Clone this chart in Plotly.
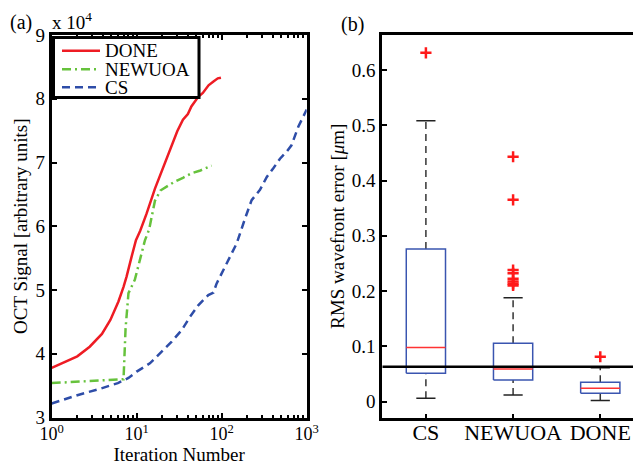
import plotly.graph_objects as go

# ---------------- Panel (a) data ----------------
done_x = [1, 1.6, 2, 2.8, 3.9, 4.9, 6.1, 7, 7.6, 8.7, 9.8, 11, 13, 16.4, 20.6, 24.5, 27, 30, 35, 40, 44, 53, 60, 70, 80, 90, 98]
done_y = [37800, 39100, 39600, 41100, 43100, 45300, 48200, 50500, 52100, 55200, 57800, 59300, 61900, 65900, 69300, 71700, 73300, 74900, 76700, 77600, 78800, 80300, 80900, 82100, 82700, 83200, 83300]

newuoa_x = [1, 2, 3, 5, 7, 7.4, 8, 9.5, 11, 12.5, 14, 16.4, 19, 22.7, 28, 35, 44, 55, 65, 76]
newuoa_y = [35400, 35600, 35700, 35900, 36000, 44000, 49500, 51600, 54800, 57800, 59500, 64000, 65600, 66300, 67000, 67600, 68300, 68700, 69100, 69500]

cs_x = [1, 2, 3.7, 6, 8, 10, 14.3, 19.7, 25.8, 33.8, 42.4, 53, 69.6, 80, 87, 100, 125, 150, 188, 225, 282, 338, 405, 485, 582, 662, 796, 955, 1000]
cs_y = [32200, 33500, 34500, 35400, 36200, 37200, 38500, 40300, 41900, 43700, 45800, 47600, 49200, 49600, 51000, 52600, 55200, 57300, 61200, 64100, 65700, 67700, 69100, 70600, 71700, 72700, 75600, 77700, 78300]

series_names = ["DONE", "NEWUOA", "CS"]
series_colors = ["#ee1c24", "#66c23c", "#2e4da8"]
series_dash = ["solid", "9px,4px,2px,4px", "8px,5px"]

a_xtick_vals = [1, 10, 100, 1000]
a_xtick_text = ["10<sup>0</sup>", "10<sup>1</sup>", "10<sup>2</sup>", "10<sup>3</sup>"]
a_ytick_vals = [30000, 40000, 50000, 60000, 70000, 80000, 90000]
a_ytick_text = ["3", "4", "5", "6", "7", "8", "9"]

# ---------------- Panel (b) data ----------------
box_labels = ["CS", "NEWUOA", "DONE"]
box_pos = [1, 2, 3]
box_q1 = [0.051, 0.039, 0.015]
box_med = [0.0977, 0.059, 0.024]
box_q3 = [0.276, 0.1056, 0.035]
box_lo = [0.006, 0.012, 0.002]
box_hi = [0.508, 0.188, 0.061]
box_outliers = [[0.631], [0.443, 0.365, 0.238, 0.232, 0.222, 0.217, 0.213, 0.210], [0.081]]
threshold = 0.063
b_ytick_vals = [0, 0.1, 0.2, 0.3, 0.4, 0.5, 0.6]
b_ytick_text = ["0", "0.1", "0.2", "0.3", "0.4", "0.5", "0.6"]

FONT = "Liberation Serif"
# the page body has an 8px margin, so the figure is sized to fill the rest of the window
OFF = 8
W, H = 641 - OFF, 465 - OFF


def px(x):
    return (x - OFF) / W


def py(y):
    return 1 - (y - OFF) / H


fig = go.Figure()

for xs, ys, nm, col, dsh in zip([done_x, newuoa_x, cs_x], [done_y, newuoa_y, cs_y],
                                series_names, series_colors, series_dash):
    fig.add_trace(go.Scatter(x=xs, y=ys, mode="lines", name=nm, showlegend=False,
                             line=dict(color=col, width=2.5, dash=dsh), xaxis="x", yaxis="y"))

# ---------- box plot built from the statistics ----------
hw = 0.225   # half box width
cw = 0.11    # half cap width
bx, by, mx, my, wx, wy, cx, cy = [], [], [], [], [], [], [], []
for p, a, m, b, lo, hi in zip(box_pos, box_q1, box_med, box_q3, box_lo, box_hi):
    bx += [p - hw, p + hw, p + hw, p - hw, p - hw, None]
    by += [a, a, b, b, a, None]
    mx += [p - hw, p + hw, None]
    my += [m, m, None]
    wx += [p, p, None, p, p, None]
    wy += [b, hi, None, lo, a, None]
    cx += [p - cw, p + cw, None, p - cw, p + cw, None]
    cy += [hi, hi, None, lo, lo, None]

fig.add_trace(go.Scatter(x=wx, y=wy, mode="lines", showlegend=False, xaxis="x2", yaxis="y2",
                         line=dict(color="#333333", width=1.5, dash="7px,5px")))
fig.add_trace(go.Scatter(x=cx, y=cy, mode="lines", showlegend=False, xaxis="x2", yaxis="y2",
                         line=dict(color="#222222", width=1.5)))
fig.add_trace(go.Scatter(x=bx, y=by, mode="lines", showlegend=False, xaxis="x2", yaxis="y2",
                         line=dict(color="#3a55b0", width=1.5)))
fig.add_trace(go.Scatter(x=mx, y=my, mode="lines", showlegend=False, xaxis="x2", yaxis="y2",
                         line=dict(color="#ff3333", width=1.5)))
ox, oy = [], []
for p, outs in zip(box_pos, box_outliers):
    for v in outs:
        ox.append(p)
        oy.append(v)
fig.add_trace(go.Scatter(x=ox, y=oy, mode="markers", showlegend=False, xaxis="x2", yaxis="y2",
                         marker=dict(symbol="cross-thin", size=8, line=dict(color="#ff1a1a", width=2.5))))
fig.add_trace(go.Scatter(x=[0.5, 3.5], y=[threshold, threshold], mode="lines", showlegend=False,
                         xaxis="x2", yaxis="y2", line=dict(color="black", width=2.5)))
# dummy trace to activate right-side tick axis of panel (b)
fig.add_trace(go.Scatter(x=[None], y=[None], xaxis="x2", yaxis="y3", showlegend=False))

ydom = [py(417.5), py(35)]
axfont = dict(family=FONT, size=19, color="black")

# ---------- legend (MATLAB style, compact rows) ----------
shapes = [dict(type="rect", xref="paper", yref="paper", x0=px(53.5), x1=px(199), y0=py(97.5), y1=py(37.5),
               fillcolor="white", line=dict(color="black", width=3), layer="above")]
annotations = []
row_y = [50.7, 69.3, 87.3]
for nm, col, dsh, ry in zip(series_names, series_colors, series_dash, row_y):
    shapes.append(dict(type="line", xref="paper", yref="paper", x0=px(62), x1=px(100), y0=py(ry), y1=py(ry),
                       line=dict(color=col, width=2.5, dash=dsh), layer="above"))
    annotations.append(dict(text=nm, x=px(103), y=py(ry), xref="paper", yref="paper", showarrow=False,
                            font=dict(family=FONT, size=19, color="black"), xanchor="left", yanchor="middle"))

annotations += [
    dict(text="(a)", x=px(21), y=py(23), xref="paper", yref="paper", showarrow=False,
         font=dict(family=FONT, size=20, color="black"), xanchor="center", yanchor="middle"),
    dict(text="x 10<sup>4</sup>", x=px(50), y=py(21), xref="paper", yref="paper", showarrow=False,
         font=dict(family=FONT, size=19, color="black"), xanchor="left", yanchor="middle"),
    dict(text="(b)", x=px(352), y=py(24), xref="paper", yref="paper", showarrow=False,
         font=dict(family=FONT, size=20, color="black"), xanchor="center", yanchor="middle"),
]

fig.update_layout(
    width=W, height=H,
    margin=dict(l=0, r=0, t=0, b=0, autoexpand=False),
    paper_bgcolor="white", plot_bgcolor="white",
    font=dict(family=FONT, size=19, color="black"),
    showlegend=False,
    xaxis=dict(type="log", range=[0, 3], domain=[px(51.7), px(306.7)], anchor="y", automargin=False,
               tickmode="array", tickvals=a_xtick_vals, ticktext=a_xtick_text,
               ticks="inside", ticklen=5, tickwidth=2, tickcolor="black", ticklabelstandoff=-2,
               showline=True, linewidth=3, linecolor="black", mirror="ticks",
               showgrid=False, zeroline=False, tickfont=dict(family=FONT, size=18, color="black"),
               minor=dict(ticks="inside", ticklen=3, tickwidth=1.5, tickcolor="black", dtick="D1", showgrid=False),
               title=dict(text="Iteration Number", font=axfont, standoff=5)),
    yaxis=dict(range=[30000, 90000], domain=ydom, anchor="x", automargin=False,
               tickmode="array", tickvals=a_ytick_vals, ticktext=a_ytick_text,
               ticks="inside", ticklen=5, tickwidth=2, tickcolor="black", ticklabelstandoff=0,
               showline=True, linewidth=3, linecolor="black", mirror="ticks",
               showgrid=False, zeroline=False, tickfont=axfont,
               title=dict(text="OCT Signal [arbitrary units]", font=axfont, standoff=3)),
    xaxis2=dict(range=[0.5, 3.467], domain=[px(382.3), 1.0], anchor="y2", automargin=False,
                tickmode="array", tickvals=box_pos, ticktext=box_labels,
                ticks="inside", ticklen=4, tickwidth=1.5, tickcolor="black", ticklabelstandoff=-7,
                showline=True, linewidth=3, linecolor="black", mirror=True,
                showgrid=False, zeroline=False, tickfont=dict(family=FONT, size=22, color="black")),
    yaxis2=dict(range=[-0.0289, 0.6633], domain=ydom, anchor="x2", automargin=False,
                tickmode="array", tickvals=b_ytick_vals, ticktext=b_ytick_text,
                ticks="inside", ticklen=5, tickwidth=2, tickcolor="black",
                showline=True, linewidth=3, linecolor="black", mirror=False,
                showgrid=False, zeroline=False, tickfont=axfont,
                title=dict(text="RMS wavefront error [<i>μ</i>m]", font=axfont, standoff=3)),
    yaxis3=dict(range=[-0.0289, 0.6633], overlaying="y2", anchor="x2", side="right", automargin=False,
                tickmode="array", tickvals=b_ytick_vals, showticklabels=False,
                ticks="inside", ticklen=4, tickwidth=2, tickcolor="black",
                showline=False, showgrid=False, zeroline=False),
    shapes=shapes,
    annotations=annotations,
)

fig.write_html("out.html")
